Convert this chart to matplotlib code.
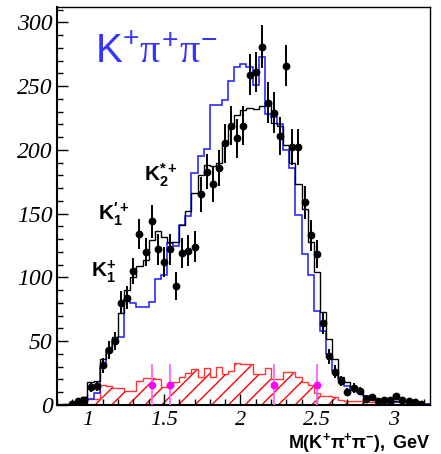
import numpy as np
import matplotlib
matplotlib.use("Agg")
import matplotlib.pyplot as plt

# histogram bins, GeV
edges = np.round(np.arange(0.80, 3.2401, 0.04), 2)

# fit (black), signal MC (blue), background (red hatched), one value per bin
fit_total = [0, 0.5, 1, 3, 6, 18, 19, 36, 45, 53,
             72, 90, 100, 109, 114, 129, 136, 132, 128, 128,
             141, 152, 166, 180, 188, 187, 190, 205, 217, 227,
             231, 233, 232, 234, 238, 221, 219, 204, 190, 173,
             154, 128, 104, 73, 52, 36, 22, 18, 14, 10,
             7, 6, 5, 4, 3.5, 3, 2.5, 2, 2, 1.5, 1]
signal_mc = [0, 0, 0, 0.3, 1, 5, 9, 30, 43, 51,
             53, 82, 80, 77, 77, 81, 99, 102, 127, 125,
             141, 148, 182, 195, 201, 235, 235, 239, 254, 265,
             267, 265, 251, 273, 228, 226, 220, 200, 186, 149,
             118, 102, 74, 58, 40, 27, 20, 15, 12, 10,
             7, 5, 4, 3, 3, 2.5, 2, 2, 1.5, 1, 1]
background = [0.5, 0.5, 0.5, 1, 4, 5, 5, 16, 15, 13,
              13, 11, 11, 19, 21, 21, 20, 14, 16, 18,
              22, 25, 28, 22, 29, 22, 30, 24, 27, 33,
              32, 32, 24, 24, 29, 20, 20, 26, 26, 22,
              18, 16, 9, 7, 7, 6, 4, 3.5, 3, 3.5,
              3, 2, 2, 2, 1.5, 1, 1, 1, 0.5, 0.5, 0.5]

# data points
data_x = [0.90, 0.94, 0.98, 1.02, 1.06, 1.10, 1.14, 1.18, 1.22, 1.26,
          1.30, 1.34, 1.38, 1.42, 1.46, 1.50, 1.54, 1.58, 1.62, 1.66,
          1.70, 1.74, 1.78, 1.82, 1.86, 1.90, 1.94, 1.98, 2.02, 2.06,
          2.10, 2.14, 2.18, 2.22, 2.26, 2.30, 2.34, 2.38, 2.42, 2.46,
          2.50, 2.54, 2.58, 2.62, 2.66, 2.70, 2.74, 2.78, 2.82, 2.86,
          2.90, 2.94, 2.98, 3.02, 3.06, 3.10, 3.14, 3.18]
data_y = [1, 3, 4, 14, 15, 31, 43, 50, 80, 84,
          105, 134, 120, 144, 122, 112, 122, 93, 119, 121,
          124, 165, 183, 173, 186, 205, 219, 209, 219, 259,
          261, 281, 237, 229, 211, 266, 202, 202, 159, 133,
          118, 64, 38, 26, 19, 10, 13, 11, 5, 6,
          3, 4, 4, 7, 4, 3, 2, 1]
data_err = [1.5, 2, 2.5, 4, 4, 6, 7, 7, 9, 9,
            10, 12, 11, 13, 12, 12, 12, 11, 12, 12,
            12, 14, 14, 14, 14, 15, 15, 15, 15, 16,
            16, 17, 16, 16, 15, 16, 14, 14, 13, 12,
            11, 8, 6, 5, 4, 3, 4, 3, 2.5, 2.5,
            2, 2, 2, 2.5, 2, 2, 1.5, 1.5]

# magenta background points
bkg_x = [1.42, 1.54, 2.22, 2.50]
bkg_y = [16, 16, 16, 16]
bkg_err = [16, 16, 16, 16]

plt.rcParams['mathtext.fontset'] = 'custom'
plt.rcParams['mathtext.rm'] = 'Liberation Sans'
plt.rcParams['mathtext.bf'] = 'Liberation Sans:bold'
plt.rcParams['mathtext.it'] = 'Liberation Serif'   # upright serif pi
plt.rcParams['hatch.linewidth'] = 1.0

fig = plt.figure(figsize=(4.41, 4.54), dpi=100)
ax = fig.add_axes([0.129, 0.108, 0.846, 0.8766])

# red hatched background
ax.stairs(background, edges, fill=True, facecolor='none', edgecolor='red',
          linewidth=0, hatch='//')
ax.stairs(background, edges, color='#ff3333', linewidth=1.0)

ax.stairs(signal_mc, edges, color='#1a1aff', linewidth=1.1)
ax.stairs(fit_total, edges, color='black', linewidth=1.0)

ax.errorbar(data_x, data_y, yerr=data_err, fmt='o', color='black', ms=4.6,
            elinewidth=1.4, capsize=0, zorder=5)
ax.errorbar(bkg_x, bkg_y, yerr=bkg_err, fmt='o', color='#ff00ff', ms=4.6,
            ecolor='#ff66ff', elinewidth=1.3, capsize=0, zorder=6)

ax.set_xlim(0.8, 3.24)
ax.set_ylim(0, 312)

ax.set_xticks([1, 1.5, 2, 2.5, 3])
ax.set_xticklabels(['1', '1.5', '2', '2.5', '3'])
ax.set_xticks(np.arange(0.8, 3.25, 0.1), minor=True)
ax.set_yticks([0, 50, 100, 150, 200, 250, 300])
ax.set_yticks(np.arange(0, 311, 10), minor=True)
ax.tick_params(which='both', direction='in', top=False, right=False, width=1)
ax.tick_params(which='major', length=8)
ax.tick_params(which='minor', length=4.5)
ax.tick_params(axis='x', pad=4)
ax.tick_params(axis='y', pad=3)
for lab in ax.get_xticklabels() + ax.get_yticklabels():
    lab.set_family('Liberation Serif')
    lab.set_style('italic')
    lab.set_fontsize(17)
for lab in ax.get_xticklabels():
    lab.set_fontsize(16)

for s in ['left', 'bottom']:
    ax.spines[s].set_linewidth(1.5)
for s in ['top', 'right']:
    ax.spines[s].set_linewidth(1.0)

ax.text(0.102, 0.859, r'$\mathrm{K^{+}}\pi^{+}\pi^{-}$', transform=ax.transAxes,
        color='#3535ff', fontsize=29, va='baseline', ha='left')

ax.text(1.367, 175, r'$\mathbf{K_2^{*+}}$', fontsize=15, va='baseline')
ax.text(1.067, 145, r'$\mathbf{K_1^{\prime+}}$', fontsize=15, va='baseline')
ax.text(1.02, 100.6, r'$\mathbf{K_1^{+}}$', fontsize=15, va='baseline')

fig.text(0.975, 0.014, r'$\mathbf{M(K^{+}\pi^{+}\pi^{-}),\ GeV}$', fontsize=13,
         ha='right', va='baseline')

fig.savefig('out.png', dpi=100)
